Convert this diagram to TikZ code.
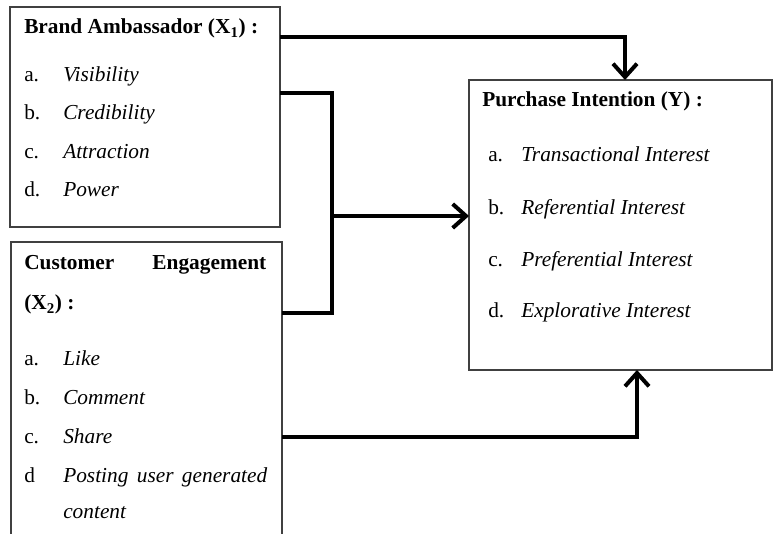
\documentclass[tikz,border=0pt]{standalone}
\usepackage{fontspec}
\setmainfont{Liberation Serif}
\usepackage{tikz}
\usetikzlibrary{arrows.meta,positioning}
\newcommand{\diagfont}{\fontsize{16}{19}\selectfont}
\tikzstyle{box}  =[draw=black!75, line width=0.9pt, inner sep=0pt,
                   outer sep=0pt, anchor=north west]
\tikzstyle{head} =[anchor=base west, inner sep=0pt, font=\diagfont\bfseries]
\tikzstyle{enum} =[anchor=base west, inner sep=0pt, font=\diagfont]
\tikzstyle{item} =[anchor=base west, inner sep=0pt, font=\diagfont\itshape]
\tikzstyle{bar}  =[line width=3pt, line join=miter]
\tikzstyle{link} =[bar, -{Straight Barb[length=10pt, width=18pt]}]

\begin{document}
\begin{tikzpicture}[x=0.75pt, y=-0.75pt]
        \useasboundingbox (0,0) rectangle (774,534);
        \clip (0,0) rectangle (774,534);

        % boxes
        \node[box, minimum width=202.5pt, minimum height=165pt] (ba) at (10,7) {};
        \node[box, minimum width=203.25pt, minimum height=240pt] (ce) at (11,242) {};
        \node[box, minimum width=227.25pt, minimum height=217.5pt] (pi) at (469,80) {};

        % Brand Ambassador
        \node[head] (ba-h) at (24,34) {Brand Ambassador (X\textsubscript{1}) :};
        \node[enum] (ba-a) at (24,82) {a.};
        \node[item] (ba-ta) at (63,82) {Visibility};
        \node[enum] (ba-b) at (24,120) {b.};
        \node[item] (ba-tb) at (63,120) {Credibility};
        \node[enum] (ba-c) at (24,159) {c.};
        \node[item] (ba-tc) at (63,159) {Attraction};
        \node[enum] (ba-d) at (24,197) {d.};
        \node[item] (ba-td) at (63,197) {Power};

        % Customer Engagement
        \node[head, text width=181.5pt] (ce-h) at (24,270) {Customer\hfill Engagement};
        \node[head] (ce-h2) at (24,310) {(X\textsubscript{2}) :};
        \node[enum] (ce-a) at (24,365) {a.};
        \node[item] (ce-ta) at (63,365) {Like};
        \node[enum] (ce-b) at (24,404) {b.};
        \node[item] (ce-tb) at (63,404) {Comment};
        \node[enum] (ce-c) at (24,443) {c.};
        \node[item] (ce-tc) at (63,443) {Share};
        \node[enum] (ce-d) at (24,482) {d};
        \node[item, text width=153pt] (ce-td) at (63,482) {Posting\hfill user\hfill generated};
        \node[item] (ce-te) at (63,518) {content};

        % Purchase Intention
        \node[head] (pi-h) at (482,107) {Purchase Intention (Y) :};
        \node[enum] (pi-a) at (488,162) {a.};
        \node[item] (pi-ta) at (521,162) {Transactional Interest};
        \node[enum] (pi-b) at (488,215) {b.};
        \node[item] (pi-tb) at (521,215) {Referential Interest};
        \node[enum] (pi-c) at (488,267) {c.};
        \node[item] (pi-tc) at (521,267) {Preferential Interest};
        \node[enum] (pi-d) at (488,318) {d.};
        \node[item] (pi-td) at (521,318) {Explorative Interest};

        % ports
        \coordinate (ba-o1) at (280,37);
        \coordinate (ba-o2) at (280,93);
        \coordinate (ce-o1) at (282,313);
        \coordinate (ce-o2) at (282,437);
        \coordinate (jn-b) at (332,313);
        \coordinate (jn-m) at (332,216);
        \coordinate (pi-t) at (625,80);
        \coordinate (pi-l) at (469,216);
        \coordinate (pi-b) at (637,370);

        \draw[link] (ba-o1) -| (pi-t);
        \draw[bar] (ba-o2) -| (jn-b) -- (ce-o1);
        \draw[link] (jn-m) -- (pi-l);
        \draw[link] (ce-o2) -| (pi-b);
\end{tikzpicture}
\end{document}
